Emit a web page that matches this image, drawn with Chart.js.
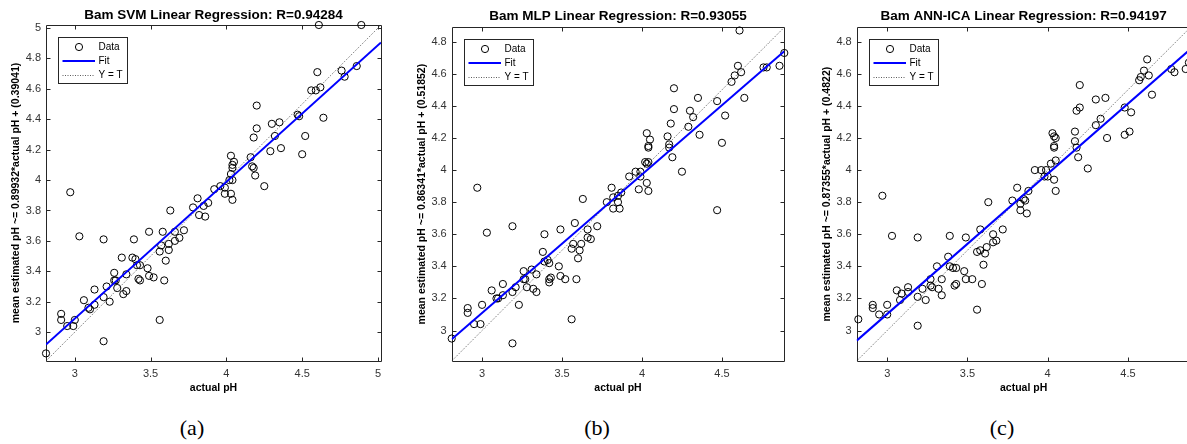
<!DOCTYPE html>
<html>
<head>
<meta charset="utf-8">
<script src="https://cdn.jsdelivr.net/npm/chart.js@4.4.1/dist/chart.umd.min.js"></script>
<style>
  html, body { margin: 0; padding: 0; background: #fff; overflow: hidden; }
  #pagina { position: relative; width: 1187px; height: 444px; overflow: hidden; background: #fff; }
  #pagina canvas { position: absolute; top: 0; }
  .legenda { position: absolute; top: 416px; line-height: 24px; font-family: "Liberation Serif", serif; font-size: 22px; color: #000; transform: translateX(-50%); }
</style>
</head>
<body>
<div id="pagina">
  <canvas id="graficoA" width="400" height="400" style="left:0px"></canvas>
  <canvas id="graficoB" width="400" height="400" style="left:405px"></canvas>
  <canvas id="graficoC" width="400" height="400" style="left:810px"></canvas>
  <div class="legenda" style="left:192px">(a)</div>
  <div class="legenda" style="left:597px">(b)</div>
  <div class="legenda" style="left:1002px">(c)</div>
</div>
<script>
// Tick labels
var xTicksA = [3, 3.5, 4, 4.5, 5];
var yTicksA = [3, 3.2, 3.4, 3.6, 3.8, 4, 4.2, 4.4, 4.6, 4.8, 5];
var xTicksBC = [3, 3.5, 4, 4.5];
var yTicksBC = [3, 3.2, 3.4, 3.6, 3.8, 4, 4.2, 4.4, 4.6, 4.8];
var legendLabels = ["Data", "Fit", "Y = T"];

// (a) SVM
var actualA = [4.61, 4.89, 4.60, 4.76, 4.78, 4.86, 4.56, 4.59, 4.62, 4.20, 4.47, 4.48, 4.64, 4.30, 4.35, 4.20,
  4.18, 4.32, 4.52, 4.29, 4.36, 4.50, 4.03, 4.16, 4.05, 4.04, 4.04, 4.17, 4.18, 4.03, 4.19, 4.02, 4.04,
  2.97, 4.25, 3.92, 3.96, 3.99, 3.99, 4.03, 4.04, 3.81, 3.78, 3.85, 3.88, 3.82, 3.86, 3.63, 3.03, 3.19,
  3.39, 3.49, 3.58, 3.66, 3.72, 3.57, 3.62, 3.69, 3.66, 3.56, 3.62, 3.60, 3.31, 3.38, 3.40, 3.41, 3.43,
  3.48, 3.49, 3.52, 3.59, 3.42, 3.43, 3.34, 3.26, 3.26, 3.27, 3.21, 3.28, 3.13, 3.34, 3.32, 3.19, 3.06,
  3.23, 3.13, 3.09, 3.10, 2.91, 2.91, 3.00, 2.95, 2.99, 3.56, 3.19, 2.81];
var estimatedA = [5.02, 5.02, 4.71, 4.72, 4.68, 4.75, 4.59, 4.59, 4.61, 4.49, 4.43, 4.42, 4.41, 4.37, 4.38, 4.34,
  4.28, 4.29, 4.29, 4.19, 4.21, 4.17, 4.16, 4.15, 4.12, 4.10, 4.08, 4.09, 4.08, 4.04, 4.03, 4.00, 4.00,
  3.92, 3.96, 3.94, 3.96, 3.95, 3.91, 3.91, 3.87, 3.88, 3.82, 3.83, 3.85, 3.77, 3.76, 3.80, 3.63, 3.61,
  3.61, 3.66, 3.66, 3.66, 3.67, 3.57, 3.58, 3.62, 3.60, 3.53, 3.54, 3.47, 3.49, 3.49, 3.48, 3.44, 3.44,
  3.42, 3.37, 3.36, 3.34, 3.35, 3.34, 3.38, 3.39, 3.34, 3.34, 3.30, 3.29, 3.28, 3.27, 3.25, 3.23, 3.21,
  3.20, 3.18, 3.16, 3.15, 3.12, 3.08, 3.08, 3.04, 3.04, 3.08, 2.94, 2.86];
var fitA = [[2.81, 2.918], [5.02, 4.905]];
var rangeA = [2.81, 5.02];

// (b) MLP
var actualB = [4.61, 4.89, 4.76, 4.78, 4.86, 4.60, 4.58, 4.62, 4.56, 4.64, 4.47, 4.52, 4.50, 4.20, 4.35, 4.20,
  4.30, 4.32, 4.18, 4.29, 4.36, 4.03, 4.05, 4.04, 4.04, 4.16, 4.17, 4.17, 4.19, 4.02, 4.03, 4.04, 4.25,
  3.96, 3.99, 3.92, 3.99, 3.81, 3.98, 4.03, 4.04, 3.78, 3.82, 3.82, 3.85, 3.85, 3.86, 3.87, 3.63, 4.47,
  2.97, 3.03, 3.19, 3.39, 3.49, 3.58, 3.72, 3.66, 3.66, 3.68, 3.57, 3.62, 3.56, 3.61, 3.60, 3.38, 3.39,
  3.41, 3.42, 3.48, 3.49, 3.52, 3.59, 3.42, 3.42, 3.43, 3.26, 3.31, 3.34, 3.26, 3.27, 3.28, 3.32, 3.34,
  3.13, 3.21, 3.06, 3.19, 3.09, 3.10, 3.13, 3.23, 2.91, 2.91, 3.00, 2.95, 2.99, 3.56, 3.19, 2.81];
var estimatedB = [4.87, 4.73, 4.64, 4.64, 4.65, 4.65, 4.59, 4.61, 4.55, 4.45, 4.43, 4.34, 4.17, 4.51, 4.45, 4.38,
  4.37, 4.33, 4.29, 4.27, 4.22, 4.23, 4.19, 4.15, 4.14, 4.21, 4.16, 4.14, 4.08, 4.05, 4.04, 4.05, 3.99,
  3.99, 3.99, 3.96, 3.96, 3.89, 3.88, 3.92, 3.87, 3.80, 3.83, 3.76, 3.84, 3.80, 3.76, 3.86, 3.82, 3.75,
  3.89, 3.61, 3.65, 3.60, 3.63, 3.67, 3.65, 3.63, 3.58, 3.57, 3.54, 3.54, 3.51, 3.50, 3.45, 3.49, 3.43,
  3.44, 3.42, 3.40, 3.34, 3.32, 3.32, 3.32, 3.30, 3.33, 3.37, 3.38, 3.35, 3.32, 3.32, 3.27, 3.26, 3.24,
  3.29, 3.27, 3.25, 3.24, 3.20, 3.20, 3.22, 3.16, 3.14, 3.11, 3.16, 3.04, 3.04, 3.07, 2.92, 2.95];
var fitB = [[2.81, 2.945], [4.89, 4.741]];
var rangeB = [2.81, 4.89];

// (c) ANN-ICA
var actualC = [4.62, 4.60, 4.63, 4.58, 4.57, 4.65, 4.77, 4.79, 4.86, 4.88, 4.20, 4.30, 4.36, 4.20, 4.18, 4.33,
  4.30, 4.48, 4.52, 4.48, 4.51, 4.37, 4.17, 4.17, 4.18, 4.19, 4.25, 4.03, 4.04, 4.05, 4.04, 4.04, 4.02,
  4.05, 3.92, 3.96, 3.99, 3.98, 4.00, 4.04, 3.81, 3.88, 4.05, 3.78, 3.83, 3.83, 3.85, 3.86, 3.87, 3.63,
  2.97, 3.03, 3.19, 3.39, 3.49, 3.58, 3.72, 3.66, 3.66, 3.68, 3.62, 3.61, 3.56, 3.58, 3.60, 3.38, 3.39,
  3.41, 3.43, 3.31, 3.48, 3.49, 3.53, 3.59, 3.34, 3.42, 3.43, 3.27, 3.27, 3.28, 3.22, 3.32, 3.34, 3.24,
  3.19, 3.13, 3.13, 3.06, 3.09, 3.08, 2.91, 2.91, 3.00, 2.95, 3.00, 3.56, 3.19, 2.82];
var estimatedC = [4.69, 4.62, 4.59, 4.58, 4.56, 4.47, 4.63, 4.61, 4.63, 4.67, 4.53, 4.44, 4.45, 4.39, 4.37, 4.32,
  4.28, 4.39, 4.36, 4.22, 4.24, 4.20, 4.24, 4.18, 4.14, 4.08, 4.01, 4.23, 4.21, 4.20, 4.15, 4.14, 4.04,
  4.06, 4.00, 4.00, 4.00, 3.96, 3.96, 3.94, 3.89, 3.87, 3.87, 3.81, 3.79, 3.75, 3.82, 3.81, 3.73, 3.80,
  3.84, 3.59, 3.58, 3.59, 3.58, 3.63, 3.63, 3.60, 3.55, 3.56, 3.52, 3.48, 3.49, 3.50, 3.41, 3.46, 3.40,
  3.39, 3.39, 3.40, 3.37, 3.32, 3.32, 3.29, 3.32, 3.28, 3.29, 3.32, 3.28, 3.27, 3.26, 3.26, 3.22, 3.19,
  3.21, 3.27, 3.24, 3.25, 3.23, 3.19, 3.16, 3.14, 3.16, 3.10, 3.10, 3.13, 3.03, 3.07];
var fitC = [[2.81, 2.937], [4.89, 4.754]];
var rangeC = [2.81, 4.89];

// Box around the axes with inward ticks on the four sides
var caixaEixos = {
  id: "caixaEixos",
  beforeDatasetsDraw: function (chart) {
    var ctx = chart.ctx;
    var a = chart.chartArea;
    var sx = chart.scales.x;
    var sy = chart.scales.y;
    var l = Math.round(a.left) + 0.5, r = Math.round(a.right) + 0.5;
    var t = Math.round(a.top) + 0.5, b = Math.round(a.bottom) + 0.5;
    ctx.save();
    ctx.strokeStyle = "#262626";
    ctx.lineWidth = 1;
    ctx.beginPath();
    ctx.rect(l, t, r - l, b - t);
    sx.ticks.forEach(function (tk) {
      var px = Math.round(sx.getPixelForValue(tk.value)) + 0.5;
      ctx.moveTo(px, b); ctx.lineTo(px, b - 4);
      ctx.moveTo(px, t); ctx.lineTo(px, t + 4);
    });
    sy.ticks.forEach(function (tk) {
      var py = Math.round(sy.getPixelForValue(tk.value)) + 0.5;
      ctx.moveTo(l, py); ctx.lineTo(l + 4, py);
      ctx.moveTo(r, py); ctx.lineTo(r - 4, py);
    });
    ctx.stroke();
    ctx.restore();
  }
};

// Legend box drawn inside the plot, top-left corner
var legendaInterna = {
  id: "legendaInterna",
  afterDraw: function (chart) {
    var ctx = chart.ctx;
    var a = chart.chartArea;
    var x0 = Math.round(a.left) + 12, y0 = Math.round(a.top) + 12;
    var w = 69, h = 46;
    var linhas = [y0 + 10, y0 + 24, y0 + 38];
    ctx.save();
    ctx.fillStyle = "#fff";
    ctx.fillRect(x0, y0, w, h);
    ctx.strokeStyle = "#262626";
    ctx.lineWidth = 1;
    ctx.strokeRect(x0 + 0.5, y0 + 0.5, w, h);
    // Data marker
    ctx.beginPath();
    ctx.arc(x0 + 21, linhas[0], 3.6, 0, 2 * Math.PI);
    ctx.strokeStyle = "#000";
    ctx.stroke();
    // Fit line
    ctx.beginPath();
    ctx.moveTo(x0 + 4.5, linhas[1]);
    ctx.lineTo(x0 + 37, linhas[1]);
    ctx.strokeStyle = "#0000ff";
    ctx.lineWidth = 2;
    ctx.stroke();
    // Y = T line
    ctx.beginPath();
    ctx.setLineDash([1, 1.5]);
    ctx.moveTo(x0 + 4.5, linhas[2] + 0.5);
    ctx.lineTo(x0 + 37, linhas[2] + 0.5);
    ctx.strokeStyle = "#333";
    ctx.lineWidth = 0.8;
    ctx.stroke();
    ctx.setLineDash([]);
    ctx.fillStyle = "#000";
    ctx.font = "10px 'Liberation Sans', Arial, sans-serif";
    ctx.textBaseline = "middle";
    legendLabels.forEach(function (txt, i) {
      ctx.fillText(txt, x0 + 40.5, linhas[i]);
    });
    ctx.restore();
  }
};

function formatarTick(v) {
  return String(Math.round(v * 10) / 10);
}

function pontos(xs, ys) {
  return xs.map(function (x, i) { return { x: x, y: ys[i] }; });
}

function criarPainel(id, cfg) {
  var fonte = "'Liberation Sans', Arial, sans-serif";
  return new Chart(document.getElementById(id), {
    type: "scatter",
    data: {
      datasets: [
        {
          label: "Fit",
          data: pontos([cfg.fit[0][0], cfg.fit[1][0]], [cfg.fit[0][1], cfg.fit[1][1]]),
          showLine: true,
          borderColor: "#0000ff",
          borderWidth: 2,
          pointRadius: 0,
        },
        {
          label: "Y = T",
          data: pontos(cfg.range, cfg.range),
          showLine: true,
          borderColor: "#333",
          borderWidth: 0.8,
          borderDash: [1, 1.5],
          pointRadius: 0,
        },
        {
          label: "Data",
          data: pontos(cfg.actual, cfg.estimated),
          pointStyle: "circle",
          pointRadius: 3.6,
          borderColor: "#000",
          borderWidth: 1,
          backgroundColor: "rgba(0,0,0,0)",
          clip: false,
        },
      ],
    },
    options: {
      responsive: false,
      animation: false,
      events: [],
      layout: { padding: { left: 0, right: cfg.padRight, top: 0, bottom: 0 } },
      plugins: {
        legend: { display: false },
        tooltip: { enabled: false },
        title: {
          display: true,
          fullSize: false,
          text: cfg.title,
          color: "#000",
          font: { family: fonte, size: 13.5, weight: "bold" },
          padding: { top: cfg.titleTop, bottom: cfg.titleBottom },
        },
      },
      scales: {
        x: {
          type: "linear",
          min: cfg.range[0],
          max: cfg.range[1],
          afterBuildTicks: function (s) { s.ticks = cfg.xTicks.map(function (v) { return { value: v }; }); },
          afterFit: function (s) { s.height = 39; },
          grid: { display: false, drawTicks: false },
          border: { display: false },
          ticks: { color: "#333", font: { family: fonte, size: 11 }, padding: 6, maxRotation: 0, autoSkip: false, callback: formatarTick },
          title: { display: true, text: "actual pH", color: "#000", font: { family: fonte, size: 10.5, weight: "bold" }, padding: { top: 0, bottom: 5.7 } },
        },
        y: {
          type: "linear",
          min: cfg.range[0],
          max: cfg.range[1],
          afterBuildTicks: function (s) { s.ticks = cfg.yTicks.map(function (v) { return { value: v }; }); },
          afterFit: function (s) { s.width = cfg.yWidth; },
          grid: { display: false, drawTicks: false },
          border: { display: false },
          ticks: { color: "#333", font: { family: fonte, size: 11 }, padding: 5, autoSkip: false, callback: formatarTick },
          title: { display: true, text: cfg.yLabel, color: "#000", font: { family: fonte, size: 10.5, weight: "bold" }, padding: { top: cfg.yTitleLeft, bottom: 0 } },
        },
      },
    },
    plugins: [caixaEixos, legendaInterna],
  });
}

criarPainel("graficoA", {
  title: "Bam SVM Linear Regression: R=0.94284",
  yLabel: "mean estimated pH ~= 0.89932*actual pH + (0.39041)",
  actual: actualA, estimated: estimatedA, fit: fitA, range: rangeA,
  xTicks: xTicksA, yTicks: yTicksA,
  yWidth: 46, padRight: 19, titleTop: 7.2, titleBottom: 1.6, yTitleLeft: 9.7,
});
criarPainel("graficoB", {
  title: "Bam MLP Linear Regression: R=0.93055",
  yLabel: "mean estimated pH ~= 0.86341*actual pH + (0.51852)",
  actual: actualB, estimated: estimatedB, fit: fitB, range: rangeB,
  xTicks: xTicksBC, yTicks: yTicksBC,
  yWidth: 46.7, padRight: 20.7, titleTop: 8.6, titleBottom: 2.5, yTitleLeft: 10.4,
});
criarPainel("graficoC", {
  title: "Bam ANN-ICA Linear Regression: R=0.94197",
  yLabel: "mean estimated pH ~= 0.87355*actual pH + (0.4822)",
  actual: actualC, estimated: estimatedC, fit: fitC, range: rangeC,
  xTicks: xTicksBC, yTicks: yTicksBC,
  yWidth: 46.7, padRight: 19.5, titleTop: 8.6, titleBottom: 2.5, yTitleLeft: 11.0,
});
</script>
</body>
</html>
